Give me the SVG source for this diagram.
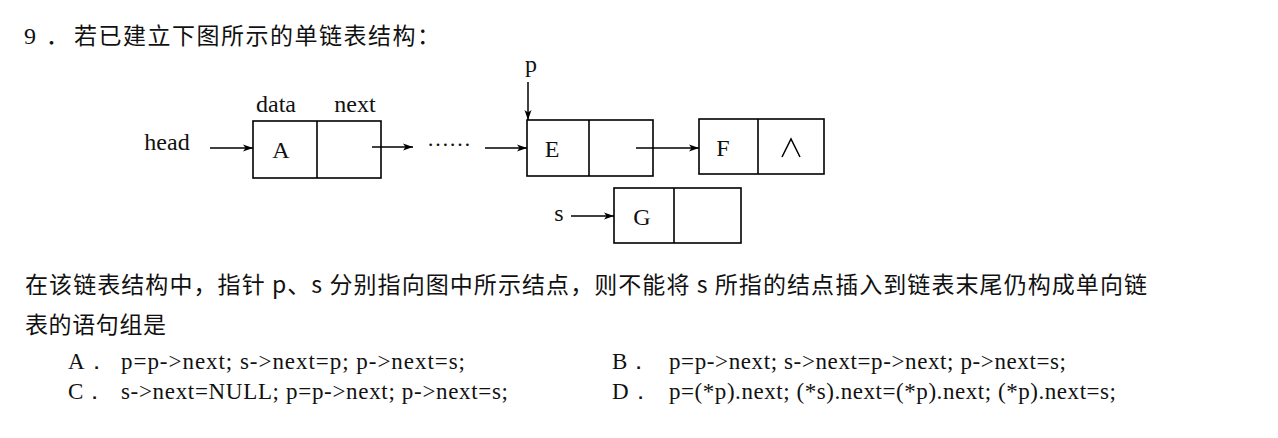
<svg xmlns="http://www.w3.org/2000/svg" width="1278" height="438" viewBox="0 0 1278 438">
<style>
.bg{fill:#ffffff}
.box{fill:none;stroke:#000;stroke-width:1.6}
.ln{fill:none;stroke:#000;stroke-width:1.5}
.ser{font-family:"Liberation Serif","Times New Roman",serif;fill:#111}
.cjk{font-family:"Noto Sans CJK SC","Noto Sans",sans-serif;fill:#111}
.lbl{font-size:24px}
.code{font-size:23px}
</style>
<defs>
<marker id="arr" viewBox="0 0 10 8" refX="10" refY="4" markerWidth="10" markerHeight="8" markerUnits="userSpaceOnUse" orient="auto">
<path d="M0,0.5 L10,4 L0,7.5 L2.5,4 Z" fill="#000"/>
</marker>
</defs>
<rect class="bg" x="0" y="0" width="1278" height="438"/>

<g id="title">
<text class="ser" x="24" y="44" font-size="24">9</text>
<text class="cjk" x="46" y="44" font-size="23">．</text>
<text class="cjk" x="74" y="44" font-size="23" textLength="366" lengthAdjust="spacing">若已建立下图所示的单链表结构：</text>
</g>

<g id="node-A">
<rect class="box" x="253" y="121" width="128" height="57"/>
<line class="box" x1="317" y1="121" x2="317" y2="178"/>
<text class="ser lbl" x="281" y="158" text-anchor="middle">A</text>
<text class="ser lbl" x="276" y="112" text-anchor="middle">data</text>
<text class="ser lbl" x="355" y="112" text-anchor="middle">next</text>
</g>

<g id="head-label">
<text class="ser lbl" x="167" y="150" text-anchor="middle">head</text>
</g>

<g id="ellipsis">
<text class="ser" x="427" y="146" font-size="22" textLength="44" lengthAdjust="spacing">……</text>
</g>

<g id="node-E">
<rect class="box" x="527" y="120" width="126" height="56"/>
<line class="box" x1="589" y1="120" x2="589" y2="176"/>
<text class="ser lbl" x="552" y="157" text-anchor="middle">E</text>
</g>

<g id="p-label">
<text class="ser lbl" x="531" y="72" text-anchor="middle">p</text>
</g>

<g id="node-F">
<rect class="box" x="699" y="119" width="125" height="55"/>
<line class="box" x1="758" y1="119" x2="758" y2="174"/>
<text class="ser lbl" x="723" y="156" text-anchor="middle">F</text>
<path class="ln" d="M782,157 L791,139 L800,157" stroke-width="1.4"/>
</g>

<g id="node-G">
<rect class="box" x="614" y="188" width="127" height="55"/>
<line class="box" x1="674" y1="188" x2="674" y2="243"/>
<text class="ser lbl" x="642" y="225" text-anchor="middle">G</text>
</g>

<g id="s-label">
<text class="ser lbl" x="559" y="221" text-anchor="middle">s</text>
</g>

<g id="connectors">
<line class="ln" x1="210" y1="148" x2="253" y2="148" marker-end="url(#arr)"/>
<line class="ln" x1="372" y1="147" x2="413" y2="147" marker-end="url(#arr)"/>
<line class="ln" x1="485" y1="148" x2="527" y2="148" marker-end="url(#arr)"/>
<line class="ln" x1="528" y1="82" x2="528" y2="120" marker-end="url(#arr)"/>
<line class="ln" x1="636" y1="148" x2="699" y2="148" marker-end="url(#arr)"/>
<line class="ln" x1="571" y1="216" x2="614" y2="216" marker-end="url(#arr)"/>
</g>

<g id="question">
<text class="cjk" x="25" y="293" font-size="23" textLength="1122" lengthAdjust="spacing">在该链表结构中，指针 p、s 分别指向图中所示结点，则不能将 s 所指的结点插入到链表末尾仍构成单向链</text>
<text class="cjk" x="25" y="333" font-size="23" textLength="141" lengthAdjust="spacing">表的语句组是</text>
</g>

<g id="options">
<text class="ser code" x="68" y="369">A．</text>
<text class="ser code" x="121" y="369" textLength="344" lengthAdjust="spacing">p=p-&gt;next; s-&gt;next=p; p-&gt;next=s;</text>
<text class="ser code" x="68" y="399">C．</text>
<text class="ser code" x="121" y="399" textLength="387" lengthAdjust="spacing">s-&gt;next=NULL; p=p-&gt;next; p-&gt;next=s;</text>
<text class="ser code" x="612" y="369">B．</text>
<text class="ser code" x="669" y="369" textLength="397" lengthAdjust="spacing">p=p-&gt;next; s-&gt;next=p-&gt;next; p-&gt;next=s;</text>
<text class="ser code" x="612" y="399">D．</text>
<text class="ser code" x="669" y="399" textLength="447" lengthAdjust="spacing">p=(*p).next; (*s).next=(*p).next; (*p).next=s;</text>
</g>
</svg>
